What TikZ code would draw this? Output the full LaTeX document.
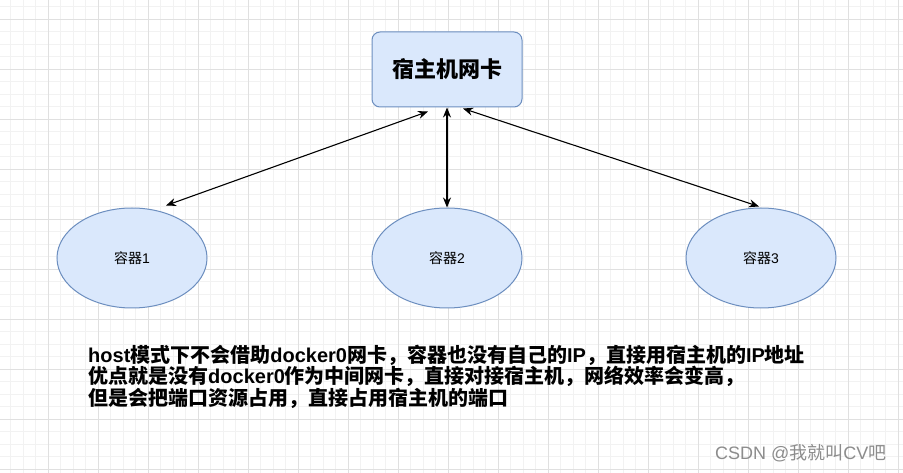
\documentclass[tikz,border=0pt]{standalone}
\usepackage{fontspec}
\setmainfont{Liberation Sans}
\newfontfamily\cjk{Noto Sans CJK SC}
\usetikzlibrary{positioning, arrows.meta, shapes.geometric}

\definecolor{boxfill}{HTML}{DAE8FC}
\definecolor{boxline}{HTML}{6C8EBF}
\definecolor{gridminor}{HTML}{F2F2F2}
\definecolor{gridmajor}{HTML}{E0E0E0}
\definecolor{wmgray}{HTML}{8C8C8C}

\begin{document}
\begin{tikzpicture}[
    x=1pt, y=-1pt,
    node distance=100pt and 163pt,
    box/.style={
        draw=boxline,
        fill=boxfill,
        line width=1pt,
        rounded corners=8pt,
        minimum width=150pt,
        minimum height=75pt,
        inner sep=0pt,
        font=\fontsize{22}{26}\selectfont\bfseries\cjk
    },
    ctr/.style={
        ellipse,
        draw=boxline,
        fill=boxfill,
        line width=1pt,
        minimum width=150pt,
        minimum height=100pt,
        inner sep=0pt,
        font=\fontsize{14}{17}\selectfont
    },
    arrow/.style={
        {Stealth[length=10pt,width=8pt]}-{Stealth[length=10pt,width=8pt]},
        line width=1.1pt
    },
    note/.style={
        anchor=north west,
        align=left,
        inner sep=0pt,
        font=\fontsize{20}{21.7}\selectfont\bfseries
    },
    wmark/.style={
        anchor=base west,
        inner sep=0pt,
        text=wmgray,
        font=\fontsize{18}{20}\selectfont
    }
]

\useasboundingbox (0,0) rectangle (903,473);
\fill[white] (0,0) rectangle (903,473);

% background grid
\draw[gridminor, line width=0.7pt, step=12.5pt, shift={(-2pt,-19pt)}]
    (2pt,-454pt) grid (905pt,19pt);
\draw[gridmajor, line width=0.8pt, step=50pt, shift={(-2pt,-19pt)}]
    (2pt,-454pt) grid (905pt,19pt);

\node[box] (host) at (447,69.5) {宿主机网卡};

\node[ctr, below=of host] (ctr2) {{\cjk 容器}2};
\node[ctr, left=164pt of ctr2] (ctr1) {{\cjk 容器}1};
\node[ctr, right=163pt of ctr2] (ctr3) {{\cjk 容器}3};

\draw[arrow] ([xshift=-19pt,yshift=-4pt]host.south) -- ([xshift=34pt,yshift=2pt]ctr1.north);
\draw[arrow] (host.south) -- (ctr2.north);
\draw[arrow] ([xshift=16pt,yshift=-1pt]host.south) -- ([xshift=-2pt,yshift=1pt]ctr3.north);

\node[note] (note) at (88,344.5)
    {host{\cjk 模式下不会借助}docker0{\cjk 网卡，容器也没有自己的}IP{\cjk ，直接用宿主机的}IP{\cjk 地址}\\
     {\cjk 优点就是没有}docker0{\cjk 作为中间网卡，直接对接宿主机，网络效率会变高，}\\
     {\cjk 但是会把端口资源占用，直接占用宿主机的端口}};

\node[wmark] (csdn) at (715,459) {CSDN @{\cjk 我就叫}CV{\cjk 吧}};

\end{tikzpicture}
\end{document}
